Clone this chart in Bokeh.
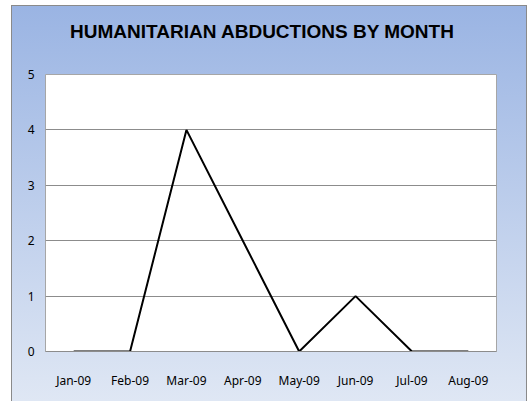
from bokeh.plotting import figure
from bokeh.models import FactorRange, Range1d, FixedTicker, Div
from bokeh.layouts import column
from bokeh.embed import file_html
from bokeh.resources import INLINE

months = ["Jan-09", "Feb-09", "Mar-09", "Apr-09", "May-09", "Jun-09", "Jul-09", "Aug-09"]
abductions = [0, 0, 4, 2, 0, 1, 0, 0]
y_ticks = [0, 1, 2, 3, 4, 5]
title_text = "HUMANITARIAN ABDUCTIONS BY MONTH"

title_div = Div(
    text=title_text, width=504, height=51,
    styles={
        "font-family": "'Liberation Sans', Arial, sans-serif",
        "font-weight": "bold",
        "font-size": "19px",
        "line-height": "22px",
        "text-align": "center",
        "color": "black",
        "padding-top": "11px",
        "padding-right": "12px",
    },
)

p = figure(
    x_range=FactorRange(*months),
    y_range=Range1d(0, 5),
    width=516, height=335,
    output_backend="svg", toolbar_location=None,
    min_border_left=34, min_border_right=31,
    min_border_top=8, min_border_bottom=50,
)
p.border_fill_color = None
p.background_fill_color = "white"
p.outline_line_color = "#a6a6a6"
p.outline_line_width = 1

p.line(months, abductions, line_color="black", line_width=2)

p.xgrid.grid_line_color = None
p.ygrid.grid_line_color = "#8c8c8c"
p.ygrid.grid_line_width = 1

p.yaxis.ticker = FixedTicker(ticks=y_ticks)
for ax in (p.xaxis[0], p.yaxis[0]):
    ax.axis_line_color = None
    ax.major_tick_line_color = None
    ax.minor_tick_line_color = None
    ax.major_tick_out = 0
    ax.major_tick_in = 0
    ax.major_label_text_font = "Noto Sans"
    ax.major_label_text_font_size = "12px"
    ax.major_label_text_color = "black"
p.xaxis.axis_line_color = "#8c8c8c"
p.xaxis.major_label_standoff = 20
p.yaxis.major_label_standoff = 11

layout = column(
    title_div, p, spacing=0,
    styles={
        "background": "linear-gradient(to bottom, #9ab4e3, #dfe7f4)",
        "box-shadow": "inset 1px 1px 0 #8a8a8a, inset -1px 0 0 #8a8a8a",
        "margin-left": "11px",
        "margin-top": "5px",
    },
)

open("out.html", "w").write(file_html(layout, INLINE))
